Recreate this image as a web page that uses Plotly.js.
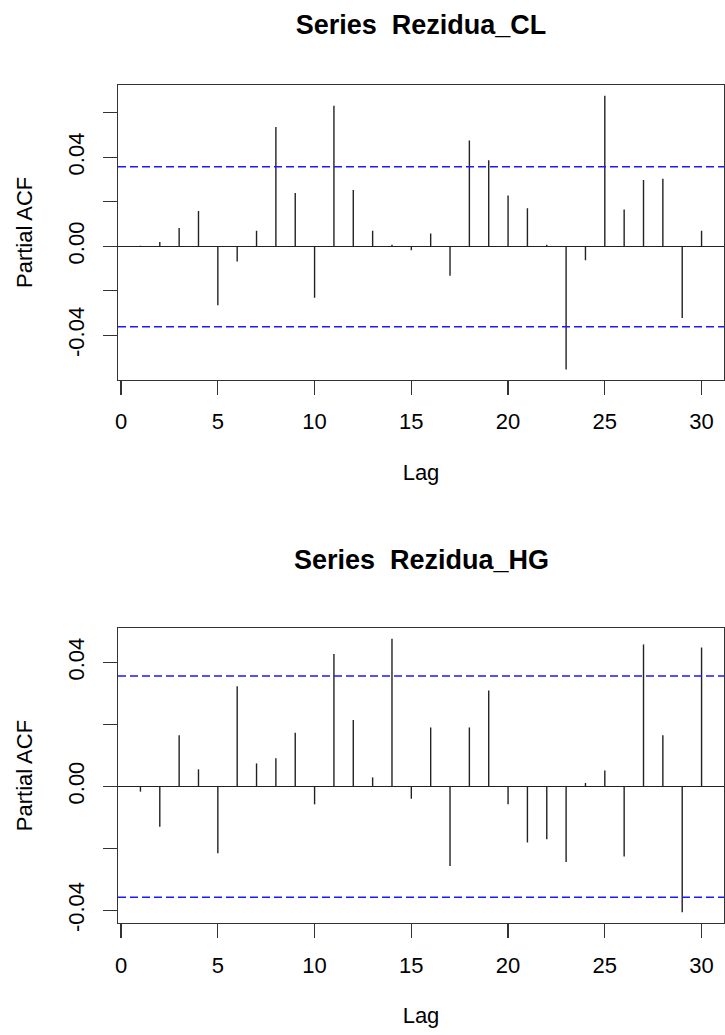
<!DOCTYPE html>
<html>
<head>
<meta charset="utf-8">
<script src="https://cdn.plot.ly/plotly-3.0.1.min.js"></script>
<style>html,body{margin:0;padding:0;background:#fff;}</style>
</head>
<body>
<div id="chart" style="width:725px;height:1035px;"></div>
<script>
// ---- data ----
const lags = [1,2,3,4,5,6,7,8,9,10,11,12,13,14,15,16,17,18,19,20,21,22,23,24,25,26,27,28,29,30];
const pacfCL = [0.0002, 0.0019, 0.0082, 0.0159, -0.0265, -0.0069, 0.0070, 0.0536, 0.0240, -0.0232,
                0.0632, 0.0253, 0.0070, 0.0007, -0.0018, 0.0057, -0.0132, 0.0475, 0.0387, 0.0228,
                0.0171, 0.0007, -0.0554, -0.0063, 0.0677, 0.0165, 0.0298, 0.0304, -0.0322, 0.0070];
const pacfHG = [-0.0017, -0.0130, 0.0165, 0.0055, -0.0216, 0.0323, 0.0074, 0.0091, 0.0173, -0.0058,
                0.0427, 0.0214, 0.0029, 0.0476, -0.0040, 0.0190, -0.0257, 0.0190, 0.0309, -0.0058,
                -0.0181, -0.0171, -0.0244, 0.0011, 0.0051, -0.0226, 0.0458, 0.0165, -0.0406, 0.0448];
const confCL = [0.0358, -0.0362];
const confHG = [0.0356, -0.0358];
const xTickVals = [0,5,10,15,20,25,30];
const xTickText = ['0','5','10','15','20','25','30'];
const yTickValsCL = [-0.04,-0.02,0,0.02,0.04,0.06];
const yTickTextCL = ['-0.04','','0.00','','0.04',''];
const yTickValsHG = [-0.04,-0.02,0,0.02,0.04];
const yTickTextHG = ['-0.04','','0.00','','0.04'];
const titleCL = 'Series\u00a0 Rezidua_CL';
const titleHG = 'Series\u00a0 Rezidua_HG';

// ---- build spikes ----
function spikes(xs, vs) {
  const x = [], y = [];
  xs.forEach((l, i) => { x.push(l, l, null); y.push(0, vs[i], null); });
  return {x, y};
}
const sCL = spikes(lags, pacfCL);
const sHG = spikes(lags, pacfHG);

const FONT = 'Liberation Sans, Arial, Helvetica, sans-serif';
const AX = '#333';

const traces = [
  {x: sCL.x, y: sCL.y, xaxis: 'x', yaxis: 'y', type: 'scatter', mode: 'lines',
   line: {color: '#222', width: 1.4}, hoverinfo: 'skip', showlegend: false},
  {x: sHG.x, y: sHG.y, xaxis: 'x2', yaxis: 'y2', type: 'scatter', mode: 'lines',
   line: {color: '#222', width: 1.4}, hoverinfo: 'skip', showlegend: false}
];

function xaxisDef(anchor) {
  return {
    anchor: anchor, domain: [0, 1], range: [-0.16, 31.16],
    tickvals: xTickVals, ticktext: xTickText,
    ticks: 'outside', ticklen: 14, tickwidth: 1.3, tickcolor: AX,
    ticklabelstandoff: 8,
    showline: true, mirror: true, linecolor: AX, linewidth: 1.3,
    showgrid: false, zeroline: false,
    tickfont: {family: FONT, size: 22, color: '#000'},
    title: {text: 'Lag', font: {family: FONT, size: 22, color: '#000'}, standoff: 31}
  };
}
function yaxisDef(anchor, domain, range, tv, tt) {
  return {
    anchor: anchor, domain: domain, range: range,
    tickvals: tv, ticktext: tt, tickangle: -90,
    ticks: 'outside', ticklen: 14, tickwidth: 1.3, tickcolor: AX,
    ticklabelstandoff: 10,
    showline: true, mirror: true, linecolor: AX, linewidth: 1.3,
    showgrid: false, zeroline: true, zerolinecolor: '#222', zerolinewidth: 1.4,
    tickfont: {family: FONT, size: 22, color: '#000'},
    title: {text: 'Partial ACF', font: {family: FONT, size: 22, color: '#000'}, standoff: 25}
  };
}

function confShapes(xref, yref, conf) {
  return conf.map(c => ({
    type: 'line', xref: xref + ' domain', yref: yref, x0: 0, x1: 1, y0: c, y1: c,
    line: {color: '#1a1aff', width: 1.5, dash: '8px,4px'}
  }));
}

const layout = {
  width: 725, height: 1035,
  margin: {l: 118, r: 1, t: 85, b: 112},
  paper_bgcolor: '#fff', plot_bgcolor: '#fff',
  showlegend: false,
  title: {text: titleCL, font: {family: FONT, size: 27, color: '#000', weight: 'bold'},
          x: 0.5, xref: 'paper', y: 1 - 24.5/1035, yref: 'container', yanchor: 'middle'},
  xaxis: xaxisDef('y'),
  yaxis: yaxisDef('x', [0.6483, 1], [-0.0600, 0.0725], yTickValsCL, yTickTextCL),
  xaxis2: xaxisDef('y2'),
  yaxis2: yaxisDef('x2', [0, 0.3520], [-0.0441, 0.0511], yTickValsHG, yTickTextHG),
  shapes: confShapes('x', 'y', confCL).concat(confShapes('x2', 'y2', confHG)),
  annotations: [
    {text: titleHG, xref: 'paper', yref: 'paper', x: 0.5, y: (923 - 560) / 838,
     xanchor: 'center', yanchor: 'middle', showarrow: false,
     font: {family: FONT, size: 27, color: '#000', weight: 'bold'}}
  ]
};

Plotly.newPlot('chart', traces, layout, {staticPlot: true, displayModeBar: false});
</script>
</body>
</html>
